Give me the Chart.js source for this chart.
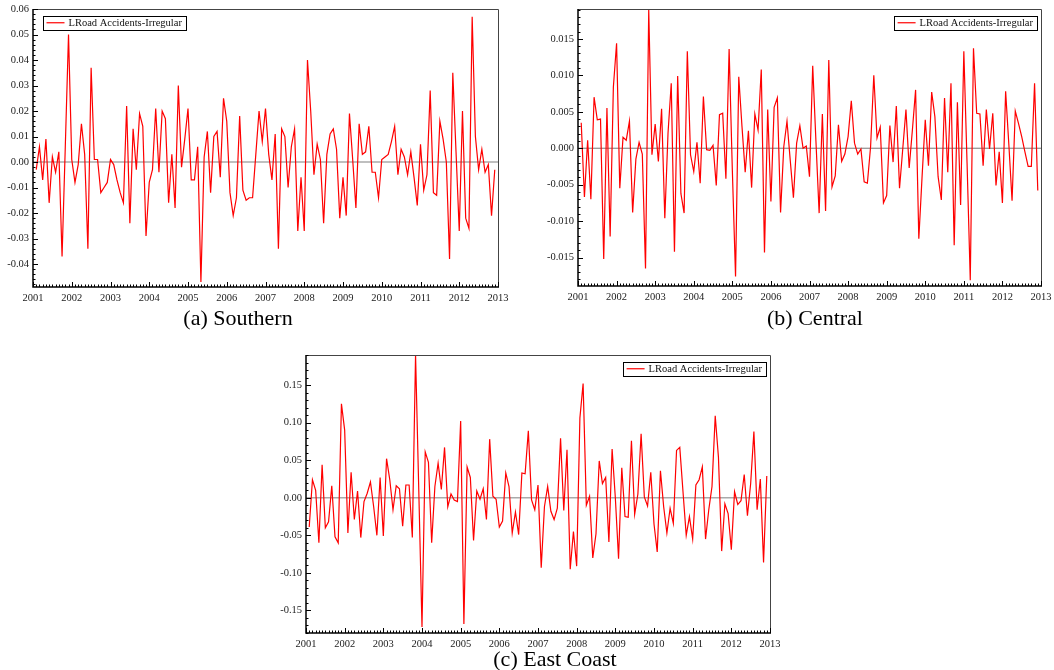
<!DOCTYPE html>
<html>
<head>
<meta charset="utf-8">
<title>LRoad Accidents - Irregular</title>
<script src="https://cdn.jsdelivr.net/npm/chart.js"></script>
<style>
  html, body { margin: 0; padding: 0; background: #fff; }
  body { width: 1054px; height: 670px; position: relative; overflow: hidden; }
  .panel { position: absolute; }
  .caption {
    position: absolute;
    font-family: "Liberation Serif", "Times New Roman", serif;
    font-size: 22px;
    color: #000;
    transform: translateX(-50%);
    white-space: nowrap;
  }
</style>
</head>
<body>

<div class="panel" style="left:0;top:0;width:510px;height:306px"><canvas id="chartSouthern"></canvas></div>
<div class="panel" style="left:540px;top:0;width:514px;height:306px"><canvas id="chartCentral"></canvas></div>
<div class="panel" style="left:266px;top:346px;width:514px;height:306px"><canvas id="chartEast"></canvas></div>

<div class="caption" style="left:238px;top:305px">(a) Southern</div>
<div class="caption" style="left:815px;top:305px">(b) Central</div>
<div class="caption" style="left:555px;top:646px">(c) East Coast</div>

<script>
// Monthly series, Feb 2001 .. Dec 2012
const seriesLabel = 'LRoad Accidents-Irregular';
const firstYear = 2001;
const lastYear = 2013;
const firstMonth = 1; // 0 = January

const southern = [
  -0.003, 0.006, -0.007, 0.009, -0.016, 0.002, -0.004, 0.004, -0.037, 0.006, 0.050,
  0.001, -0.008, -0.001, 0.015, 0.003, -0.034, 0.037, 0.001, 0.001, -0.012, -0.010, -0.008,
  0.001, -0.001, -0.007, -0.012, -0.016, 0.022, -0.024, 0.013, -0.003, 0.019, 0.014, -0.029,
  -0.008, -0.003, 0.021, -0.004, 0.020, 0.017, -0.016, 0.003, -0.018, 0.030, -0.002, 0.009,
  0.021, -0.007, -0.007, 0.006, -0.047, 0.002, 0.012, -0.012, 0.010, 0.012, -0.006, 0.025,
  0.016, -0.012, -0.021, -0.014, 0.018, -0.011, -0.015, -0.014, -0.014, 0.003, 0.020, 0.008,
  0.021, 0.003, -0.007, 0.011, -0.034, 0.013, 0.010, -0.010, 0.006, 0.013, -0.027, -0.006,
  -0.027, 0.040, 0.020, -0.005, 0.007, 0.001, -0.024, 0.003, 0.011, 0.013, 0.005, -0.022,
  -0.006, -0.021, 0.019, 0.001, -0.018, 0.015, 0.003, 0.004, 0.014, -0.004, -0.004, -0.014,
  0.001, 0.002, 0.003, 0.008, 0.014, -0.005, 0.005, 0.002, -0.005, 0.004, -0.006, -0.017,
  0.007, -0.011, -0.005, 0.028, -0.012, -0.013, 0.016, 0.009, 0.000, -0.038, 0.035, 0.004,
  -0.027, 0.020, -0.022, -0.026, 0.057, 0.010, -0.003, 0.005, -0.004, -0.001, -0.021, -0.003
];

const central = [
  0.0035, -0.0067, 0.0011, -0.0070, 0.0070, 0.0039, 0.0040, -0.0152, 0.0055, -0.0121, 0.0084,
  0.0144, -0.0055, 0.0015, 0.0011, 0.0037, -0.0088, -0.0015, 0.0008, -0.0008, -0.0165, 0.0190, -0.0009,
  0.0033, -0.0018, 0.0054, -0.0096, 0.0021, 0.0089, -0.0142, 0.0099, -0.0062, -0.0089, 0.0133, -0.0009,
  -0.0032, 0.0008, -0.0048, 0.0071, -0.0002, -0.0003, 0.0004, -0.0051, 0.0046, 0.0048, -0.0042, 0.0136,
  -0.0030, -0.0176, 0.0098, 0.0030, -0.0033, 0.0024, -0.0054, 0.0047, 0.0025, 0.0108, -0.0143, 0.0053,
  -0.0073, 0.0056, 0.0069, -0.0088, 0.0002, 0.0037, -0.0016, -0.0068, 0.0007, 0.0031, 0.0000, 0.0003,
  -0.0039, 0.0113, 0.0010, -0.0089, 0.0047, -0.0086, 0.0121, -0.0053, -0.0038, 0.0032, -0.0018, -0.0008,
  0.0016, 0.0065, 0.0007, -0.0008, -0.0001, -0.0046, -0.0048, 0.0002, 0.0100, 0.0014, 0.0029, -0.0075,
  -0.0065, 0.0031, -0.0019, 0.0058, -0.0055, -0.0001, 0.0053, -0.0027, 0.0025, 0.0080, -0.0124, -0.0040,
  0.0039, -0.0024, 0.0077, 0.0043, -0.0039, -0.0071, 0.0069, -0.0033, 0.0089, -0.0133, 0.0063, -0.0078,
  0.0133, -0.0020, -0.0181, 0.0137, 0.0048, 0.0047, -0.0024, 0.0053, -0.0001, 0.0048, -0.0051, -0.0005,
  -0.0075, 0.0078, 0.0005, -0.0072, 0.0051, 0.0034, 0.0016, -0.0005, -0.0025, -0.0025, 0.0089, -0.0058
];

const eastCoast = [
  -0.039, 0.024, 0.010, -0.060, 0.044, -0.040, -0.032, 0.016, -0.052, -0.060, 0.125,
  0.090, -0.047, 0.034, -0.029, 0.009, -0.053, -0.005, 0.006, 0.021, -0.012, -0.050, 0.027,
  -0.051, 0.052, 0.024, -0.016, 0.016, 0.012, -0.038, 0.017, 0.017, -0.053, 0.190, 0.010,
  -0.172, 0.061, 0.047, -0.060, 0.015, 0.046, 0.011, 0.067, -0.012, 0.005, -0.003, -0.005,
  0.102, -0.168, 0.041, 0.027, -0.057, 0.009, -0.002, 0.012, -0.029, 0.078, 0.002, -0.002,
  -0.039, -0.031, 0.033, 0.015, -0.047, -0.019, -0.049, 0.033, 0.032, 0.089, -0.003, -0.016,
  0.017, -0.093, -0.012, 0.015, -0.018, -0.029, -0.014, 0.079, -0.017, 0.064, -0.095, -0.045,
  -0.091, 0.106, 0.152, -0.010, 0.002, -0.080, -0.048, 0.049, 0.019, 0.027, -0.059, 0.065,
  0.000, -0.081, 0.040, -0.025, -0.026, 0.076, -0.022, 0.005, 0.085, 0.001, -0.011, 0.034,
  -0.035, -0.072, 0.036, -0.012, -0.047, -0.014, -0.034, 0.063, 0.067, 0.008, -0.050, -0.025,
  -0.055, 0.017, 0.024, 0.041, -0.055, -0.016, 0.015, 0.109, 0.054, -0.071, -0.008, -0.021,
  -0.069, 0.008, -0.009, -0.004, 0.031, -0.024, 0.019, 0.088, -0.016, 0.025, -0.086, 0.029
];

const tickFont = { family: '"Liberation Serif", "Times New Roman", serif', size: 10.5 };

// Draws the frame, inward tick marks, zero line and the boxed legend
const frameTicks = {
  id: 'frameTicks',
  beforeDatasetsDraw(chart, args, opts) {
    const { ctx, chartArea: a, scales: { y } } = chart;
    const y0 = y.getPixelForValue(0);
    ctx.save();
    ctx.strokeStyle = opts.zeroColor;
    ctx.lineWidth = opts.zeroWidth;
    ctx.beginPath();
    ctx.moveTo(a.left, y0);
    ctx.lineTo(a.right, y0);
    ctx.stroke();
    ctx.restore();
  },
  afterDraw(chart, args, opts) {
    const { ctx, chartArea: a, scales: { x, y } } = chart;
    ctx.save();

    // top and right border
    ctx.strokeStyle = '#444';
    ctx.lineWidth = 1;
    ctx.beginPath();
    ctx.moveTo(a.left, a.top + 0.5);
    ctx.lineTo(a.right + 0.5, a.top + 0.5);
    ctx.lineTo(a.right + 0.5, a.bottom);
    ctx.stroke();

    // left and bottom axis
    ctx.strokeStyle = '#000';
    ctx.lineWidth = 1.5;
    ctx.beginPath();
    ctx.moveTo(a.left, a.top);
    ctx.lineTo(a.left, a.bottom);
    ctx.lineTo(a.right + 1, a.bottom);
    ctx.stroke();

    // inward ticks
    ctx.lineWidth = 1;
    ctx.beginPath();
    const minor = opts.yStep / 5;
    const kStart = Math.ceil(y.min / minor - 1e-6);
    const kEnd = Math.floor(y.max / minor + 1e-6);
    for (let k = kStart; k <= kEnd; k++) {
      const py = Math.round(y.getPixelForValue(k * minor)) + 0.5;
      const len = k % 5 === 0 ? 5 : 2.5;
      ctx.moveTo(a.left, py);
      ctx.lineTo(a.left + len, py);
    }
    const months = (lastYear - firstYear) * 12;
    for (let m = 0; m <= months; m++) {
      const px = Math.round(x.getPixelForValue(firstYear + m / 12)) + 0.5;
      const len = m % 12 === 0 ? 5 : 2.5;
      ctx.moveTo(px, a.bottom);
      ctx.lineTo(px, a.bottom - len);
    }
    ctx.stroke();

    // legend box
    ctx.font = tickFont.size + 'px ' + tickFont.family;
    const textW = ctx.measureText(seriesLabel).width;
    const boxW = 26 + textW + 4;
    const boxH = 13.5;
    const left = opts.legendAlign === 'left' ? a.left + 9.5 : a.right - 4 - boxW;
    const top = a.top + 6.5;
    ctx.fillStyle = '#fff';
    ctx.fillRect(left, top, boxW, boxH);
    ctx.strokeStyle = '#000';
    ctx.lineWidth = 1;
    ctx.strokeRect(Math.round(left) + 0.5, Math.round(top) + 0.5, Math.round(boxW), Math.round(boxH));
    ctx.strokeStyle = '#ff0000';
    ctx.lineWidth = 1.2;
    ctx.beginPath();
    ctx.moveTo(left + 4, top + boxH / 2 + 0.5);
    ctx.lineTo(left + 22, top + boxH / 2 + 0.5);
    ctx.stroke();
    ctx.fillStyle = '#111';
    ctx.textBaseline = 'middle';
    ctx.textAlign = 'left';
    ctx.fillText(seriesLabel, left + 26, top + boxH / 2 + 1);

    ctx.restore();
  }
};

function makeChart(id, values, cfg) {
  const points = values.map((v, k) => ({ x: firstYear + (firstMonth + k) / 12, y: v }));
  return new Chart(document.getElementById(id), {
    type: 'line',
    data: {
      datasets: [{
        label: seriesLabel,
        data: points,
        borderColor: '#ff0000',
        borderWidth: 1.2,
        pointRadius: 0,
        tension: 0,
        fill: false
      }]
    },
    options: {
      responsive: true,
      maintainAspectRatio: false,
      animation: false,
      layout: { padding: cfg.padding },
      plugins: {
        legend: { display: false },
        tooltip: { enabled: false },
        frameTicks: {
          yStep: cfg.yStep,
          zeroColor: cfg.zeroColor,
          zeroWidth: cfg.zeroWidth,
          legendAlign: cfg.legendAlign
        }
      },
      scales: {
        x: {
          type: 'linear',
          min: firstYear,
          max: lastYear,
          grid: { display: false, drawTicks: false },
          border: { display: false },
          ticks: {
            stepSize: 1,
            autoSkip: false,
            maxRotation: 0,
            padding: 5,
            color: '#222',
            font: tickFont,
            callback: v => String(v)
          },
          afterFit: s => { s.height = cfg.xHeight; s.paddingLeft = 0; s.paddingRight = 0; }
        },
        y: {
          min: cfg.yMin,
          max: cfg.yMax,
          grid: { display: false, drawTicks: false },
          border: { display: false },
          ticks: {
            stepSize: cfg.yStep,
            includeBounds: false,
            padding: 4,
            color: '#222',
            font: tickFont,
            callback: v => (Math.abs(v) < 1e-9 ? 0 : v).toFixed(cfg.decimals)
          },
          afterFit: s => { s.width = cfg.yWidth; s.paddingTop = 0; s.paddingBottom = 0; }
        }
      }
    },
    plugins: [frameTicks]
  });
}

makeChart('chartSouthern', southern, {
  yMin: -0.049, yMax: 0.06, yStep: 0.01, decimals: 2,
  yWidth: 33, xHeight: 19, padding: { top: 9, right: 12, left: 0, bottom: 0 },
  zeroColor: '#aaaaaa', zeroWidth: 1.5, legendAlign: 'left'
});

makeChart('chartCentral', central, {
  yMin: -0.0189, yMax: 0.0191, yStep: 0.005, decimals: 3,
  yWidth: 38, xHeight: 20, padding: { top: 9, right: 13, left: 0, bottom: 0 },
  zeroColor: '#777777', zeroWidth: 1, legendAlign: 'right'
});

makeChart('chartEast', eastCoast, {
  yMin: -0.18, yMax: 0.19, yStep: 0.05, decimals: 2,
  yWidth: 40, xHeight: 19, padding: { top: 9, right: 10, left: 0, bottom: 0 },
  zeroColor: '#aaaaaa', zeroWidth: 1.5, legendAlign: 'right'
});
</script>
</body>
</html>
